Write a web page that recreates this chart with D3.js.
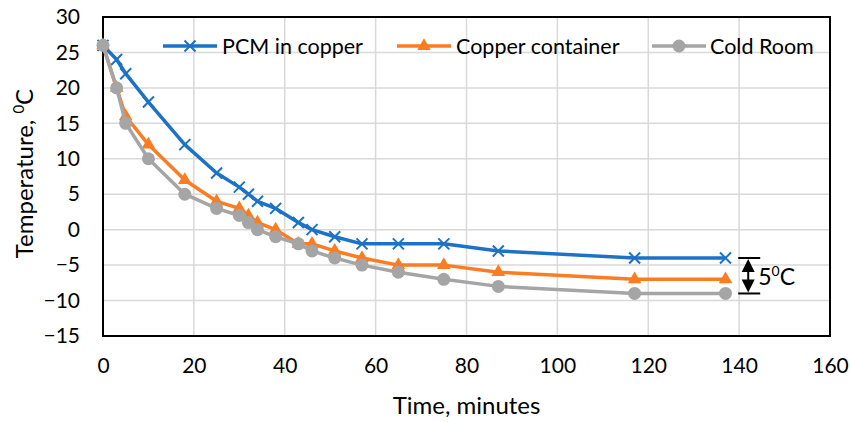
<!DOCTYPE html>
<html>
<head>
<meta charset="utf-8">
<script src="https://cdn.jsdelivr.net/npm/d3@7"></script>
<style>
  html, body { margin: 0; padding: 0; background: #fff; }
  svg { display: block; }
  text { font-family: Lato, "Open Sans", sans-serif; fill: #000; }
</style>
</head>
<body>
<svg id="chart" width="850" height="422"></svg>
<script>
// Cooling curves: time (minutes) vs temperature (°C)
const timeMin = [0, 3, 5, 10, 18, 25, 30, 32, 34, 38, 43, 46, 51, 57, 65, 75, 87, 117, 137];
const pcmCopper = [26, 24, 22, 18, 12, 8, 6, 5, 4, 3, 1, 0, -1, -2, -2, -2, -3, -4, -4];
const copperContainer = [26, 20, 16, 12, 7, 4, 3, 2, 1, 0, -2, -2, -3, -4, -5, -5, -6, -7, -7];
const coldRoom = [26, 20, 15, 10, 5, 3, 2, 1, 0, -1, -2, -3, -4, -5, -6, -7, -8, -9, -9];
const seriesNames = ["PCM in copper", "Copper container", "Cold Room"];
const xTicks = [0, 20, 40, 60, 80, 100, 120, 140, 160];
const yTicks = [30, 25, 20, 15, 10, 5, 0, -5, -10, -15];
const gapLabelValue = 5; // temperature gap marked at the right end

const colors = ["#1c72c6", "#fc7c22", "#a5a5a5"];
const markers = ["cross", "triangle", "circle"];

const svg = d3.select("#chart");
const margin = { left: 103, right: 20, top: 17, bottom: 86 };
const W = 850, H = 422;

const x = d3.scaleLinear().domain([0, 160]).range([margin.left, W - margin.right]);
const y = d3.scaleLinear().domain([-15, 30]).range([H - margin.bottom, margin.top]);

// grid
const grid = svg.append("g");
grid.selectAll("line.h").data(yTicks.filter(v => v > -15 && v < 30)).join("line")
  .attr("x1", x(0)).attr("x2", x(160))
  .attr("y1", d => y(d)).attr("y2", d => y(d))
  .attr("stroke", "#d9d9d9").attr("stroke-width", 1.5);
grid.selectAll("line.v").data(xTicks.filter(v => v > 0 && v < 160)).join("line")
  .attr("y1", y(-15)).attr("y2", y(30))
  .attr("x1", d => x(d)).attr("x2", d => x(d))
  .attr("stroke", "#d9d9d9").attr("stroke-width", 1.5);

// frame
svg.append("rect")
  .attr("x", x(0)).attr("y", y(30))
  .attr("width", x(160) - x(0)).attr("height", y(-15) - y(30))
  .attr("fill", "none").attr("stroke", "#000").attr("stroke-width", 2);

// axes (labels only; frame draws the lines)
const yAxis = d3.axisLeft(y).tickValues(yTicks).tickSize(0).tickPadding(23);
svg.append("g").attr("transform", `translate(${x(0)},0)`).call(yAxis)
  .call(g => g.select(".domain").remove())
  .selectAll("text").style("font-size", "21px").style("font-family", "Lato, sans-serif");

const xAxis = d3.axisBottom(x).tickValues(xTicks).tickSize(0).tickPadding(22);
svg.append("g").attr("transform", `translate(0,${y(-15)})`).call(xAxis)
  .call(g => g.select(".domain").remove())
  .selectAll("text").style("font-size", "21px").style("font-family", "Lato, sans-serif");

// axis titles
svg.append("text")
  .attr("x", (x(0) + x(160)) / 2).attr("y", 414)
  .attr("text-anchor", "middle").style("font-size", "24px")
  .text("Time, minutes");

const yTitle = svg.append("text")
  .attr("transform", `translate(33,${(y(30) + y(-15)) / 2 - 3}) rotate(-90)`)
  .attr("text-anchor", "middle").style("font-size", "24px");
yTitle.append("tspan").text("Temperature, ");
yTitle.append("tspan").attr("dy", -9).style("font-size", "15px").text("0");
yTitle.append("tspan").attr("dy", 9).text("C");

// series
const allSeries = [pcmCopper, copperContainer, coldRoom];
const line = d3.line().x(d => x(d[0])).y(d => y(d[1]));

function drawMarker(g, type, color, cx, cy) {
  if (type === "cross") {
    const s = 5.5;
    g.append("path")
      .attr("d", `M${cx - s},${cy - s}L${cx + s},${cy + s}M${cx - s},${cy + s}L${cx + s},${cy - s}`)
      .attr("stroke", color).attr("stroke-width", 2).attr("fill", "none");
  } else if (type === "triangle") {
    g.append("path")
      .attr("d", d3.symbol().type(d3.symbolTriangle).size(80)())
      .attr("transform", `translate(${cx},${cy})`)
      .attr("fill", color);
  } else {
    g.append("circle").attr("cx", cx).attr("cy", cy).attr("r", 6.5).attr("fill", color);
  }
}

allSeries.forEach((vals, i) => {
  const pts = timeMin.map((t, k) => [t, vals[k]]);
  const g = svg.append("g");
  g.append("path").datum(pts).attr("d", line)
    .attr("fill", "none").attr("stroke", colors[i]).attr("stroke-width", 3.5)
    .attr("stroke-linejoin", "round");
  pts.forEach(p => drawMarker(g, markers[i], colors[i], x(p[0]), y(p[1])));
});

// legend
const legendItems = [
  { x0: 163, tx: 222 },
  { x0: 397, tx: 456 },
  { x0: 652, tx: 710 }
];
const ly = 46;
legendItems.forEach((it, i) => {
  const g = svg.append("g");
  g.append("line").attr("x1", it.x0).attr("x2", it.x0 + 54)
    .attr("y1", ly).attr("y2", ly)
    .attr("stroke", colors[i]).attr("stroke-width", 3.5);
  drawMarker(g, markers[i], colors[i], it.x0 + 27, ly);
  g.append("text").attr("x", it.tx).attr("y", ly + 8)
    .style("font-size", "21.5px").text(seriesNames[i]);
});

// temperature-gap bracket at the right end
const gapTop = pcmCopper[pcmCopper.length - 1];
const gapBottom = gapTop - gapLabelValue;
const bx = x(142);
const yt = y(gapTop), yb = y(gapBottom);
const ann = svg.append("g");
[yt, yb].forEach(v => ann.append("line")
  .attr("x1", bx - 10).attr("x2", bx + 12).attr("y1", v).attr("y2", v)
  .attr("stroke", "#000").attr("stroke-width", 2));
ann.append("line").attr("x1", bx).attr("x2", bx).attr("y1", yt + 12).attr("y2", yb - 12)
  .attr("stroke", "#000").attr("stroke-width", 2);
ann.append("path").attr("d", `M${bx},${yt + 1}L${bx - 6.5},${yt + 14}L${bx + 6.5},${yt + 14}Z`).attr("fill", "#000");
ann.append("path").attr("d", `M${bx},${yb - 1}L${bx - 6.5},${yb - 14}L${bx + 6.5},${yb - 14}Z`).attr("fill", "#000");
const gt = ann.append("text").attr("x", bx + 10).attr("y", (yt + yb) / 2 + 9).style("font-size", "23px");
gt.append("tspan").text(String(gapLabelValue));
gt.append("tspan").attr("dy", -9).style("font-size", "14px").text("0");
gt.append("tspan").attr("dy", 9).text("C");
</script>
</body>
</html>
